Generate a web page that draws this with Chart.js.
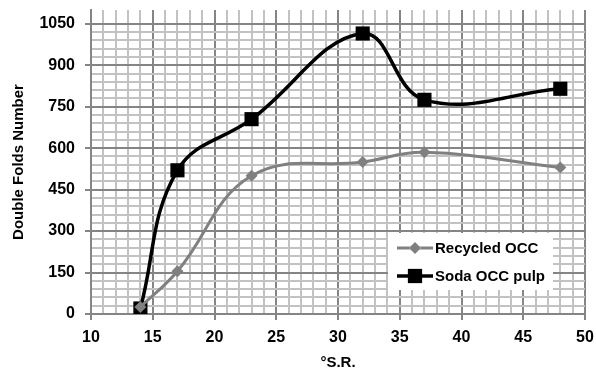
<!DOCTYPE html>
<html>
<head>
<meta charset="utf-8">
<script src="https://cdn.jsdelivr.net/npm/chart.js@4.4.0/dist/chart.umd.min.js"></script>
<style>
html, body { margin: 0; padding: 0; background: #fff; }
#wrap { width: 596px; height: 372px; }
</style>
</head>
<body>
<div id="wrap"><canvas id="myChart"></canvas></div>
<script>
// freeness (°SR) and double folds for both pulps
const srValues = [14, 17, 23, 32, 37, 48];
const recycledFolds = [25, 155, 500, 550, 585, 530];
const sodaFolds = [20, 520, 705, 1015, 775, 815];
const seriesNames = ["Recycled OCC", "Soda OCC pulp"];
const xTitle = "°S.R.";
const yTitle = "Double Folds Number";

const FONT = "Arial, 'Liberation Sans', sans-serif";
const majorGrid = '#858585';
const minorGrid = '#c2c2c2';

const ctx = document.getElementById('myChart').getContext('2d');

// legend box drawn inside the plot, lower right
const boxLegend = {
    id: 'boxLegend',
    afterDraw(chart) {
        const c = chart.ctx;
        const a = chart.chartArea;
        const bx = a.right - 197;
        const by = a.bottom - 81;
        c.save();
        c.fillStyle = '#fff';
        c.fillRect(bx, by, 165, 57);
        chart.data.datasets.forEach((ds, i) => {
            const y = by + 15 + i * 28;
            c.strokeStyle = ds.borderColor;
            c.lineWidth = ds.borderWidth;
            c.beginPath();
            c.moveTo(bx + 9, y);
            c.lineTo(bx + 45, y);
            c.stroke();
            Chart.helpers.drawPoint(c, {
                pointStyle: ds.pointStyle,
                radius: ds.pointRadius,
                borderWidth: 0,
                rotation: 0
            }, bx + 27, y);
            c.fillStyle = ds.pointBackgroundColor;
            c.fill();
            c.fillStyle = '#000';
            c.font = 'bold 15px ' + FONT;
            c.textBaseline = 'middle';
            c.textAlign = 'left';
            c.fillText(ds.label, bx + 47, y + 1);
        });
        c.restore();
    }
};

// keep the plot edges where the reference has them
function noPad(scale) {
    scale.paddingTop = 0;
    scale.paddingBottom = 0;
    scale.paddingLeft = 0;
    scale.paddingRight = 0;
}

const myChart = new Chart(ctx, {
    type: 'line',
    data: {
        datasets: [{
            label: seriesNames[0],
            data: srValues.map((x, i) => ({x: x, y: recycledFolds[i]})),
            borderColor: '#808080',
            backgroundColor: '#808080',
            pointBackgroundColor: '#808080',
            pointBorderColor: '#808080',
            borderWidth: 3,
            pointStyle: 'rectRot',
            pointRadius: 6,
            pointBorderWidth: 0,
            tension: 0.4
        }, {
            label: seriesNames[1],
            data: srValues.map((x, i) => ({x: x, y: sodaFolds[i]})),
            borderColor: '#000',
            backgroundColor: '#000',
            pointBackgroundColor: '#000',
            pointBorderColor: '#000',
            borderWidth: 3.5,
            pointStyle: 'rect',
            pointRadius: 10,
            pointBorderWidth: 0,
            tension: 0.4
        }]
    },
    options: {
        responsive: true,
        maintainAspectRatio: false,
        animation: false,
        layout: {padding: {top: 9, right: 11, left: 0, bottom: 0}},
        plugins: {
            legend: {display: false},
            tooltip: {enabled: false}
        },
        scales: {
            x: {
                type: 'linear',
                min: 10,
                max: 50,
                afterFit(scale) { scale.height = 58; noPad(scale); },
                border: {color: majorGrid, width: 2},
                grid: {
                    lineWidth: 2,
                    tickLength: 6,
                    color: (c) => c.tick && c.tick.value % 5 === 0 ? majorGrid : minorGrid,
                    tickColor: (c) => c.tick && c.tick.value % 5 === 0 ? majorGrid : 'rgba(0,0,0,0)'
                },
                ticks: {
                    stepSize: 1,
                    autoSkip: false,
                    maxRotation: 0,
                    padding: 8,
                    color: '#000',
                    font: {family: FONT, size: 16, weight: 'bold'},
                    callback: (v) => v % 5 === 0 ? v : ''
                },
                title: {
                    display: true,
                    text: xTitle,
                    color: '#000',
                    padding: {top: 0, bottom: 0},
                    font: {family: FONT, size: 15, weight: 'bold'}
                }
            },
            y: {
                min: 0,
                max: 1100,
                afterFit(scale) { scale.width = 91; noPad(scale); },
                border: {color: majorGrid, width: 2},
                grid: {
                    lineWidth: 2,
                    tickLength: 6,
                    color: (c) => {
                        if (!c.tick || c.tick.value === 1100) return 'rgba(0,0,0,0)';
                        return c.tick.value % 150 === 0 ? majorGrid : minorGrid;
                    },
                    tickColor: (c) => c.tick && c.tick.value % 150 === 0 ? majorGrid : 'rgba(0,0,0,0)'
                },
                ticks: {
                    stepSize: 30,
                    autoSkip: false,
                    padding: 10,
                    color: '#000',
                    font: {family: FONT, size: 16, weight: 'bold'},
                    callback: (v) => v % 150 === 0 ? v : ''
                },
                title: {
                    display: true,
                    text: yTitle,
                    color: '#000',
                    padding: {top: 10, bottom: 0},
                    font: {family: FONT, size: 15, weight: 'bold'}
                }
            }
        }
    },
    plugins: [boxLegend]
});
</script>
</body>
</html>
